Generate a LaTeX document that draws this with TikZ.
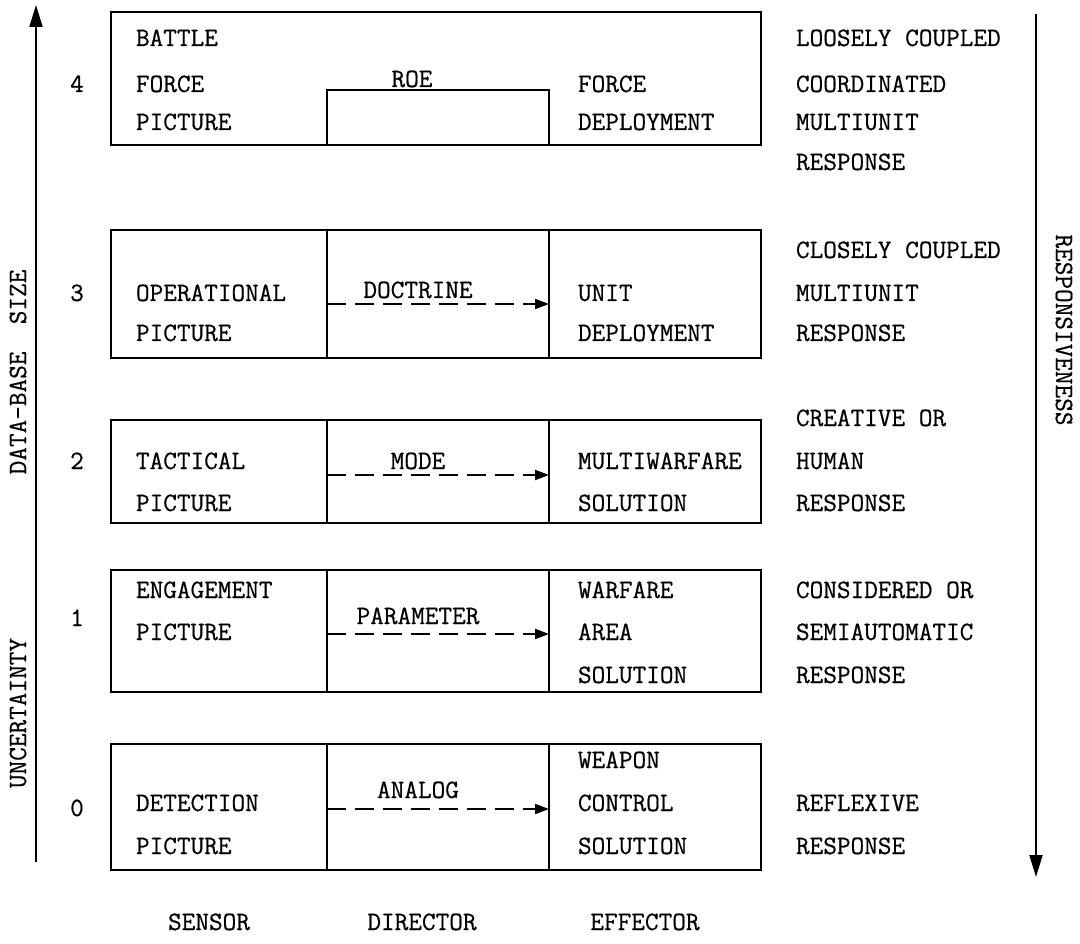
\documentclass[tikz,border=0pt]{standalone}
\usepackage{fontspec}
\newfontfamily\typew[FakeBold=0.6]{Latin Modern Mono}
\usetikzlibrary{arrows.meta}
\begin{document}
\begin{tikzpicture}[x=1pt,y=-1pt,
  line width=2pt,
  txt/.style={font=\fontsize{26.5}{26.5}\selectfont\typew, inner sep=0pt, anchor=base west},
  ctxt/.style={font=\fontsize{26.5}{26.5}\selectfont\typew, inner sep=0pt, anchor=base},
  rtxt/.style={font=\fontsize{26.5}{26.5}\selectfont\typew, inner sep=0pt},
  cell/.style={draw, rectangle, inner sep=0pt, outer sep=0pt},
  dasharrow/.style={dash pattern=on 19pt off 9pt, -{Triangle[length=14pt,width=10pt]}},
  axis/.style={-{Triangle[length=22pt,width=13pt]}}]
\useasboundingbox (0,0) rectangle (1080,944);

% axes
\coordinate (lb) at (36,862);
\coordinate (lt) at (36,5);
\coordinate (rt) at (1036,14);
\coordinate (rb) at (1036,877);
\draw[axis] (lb) -- (lt);
\draw[axis] (rt) -- (rb);
\node[rtxt, rotate=90] (dbs) at (18,372) {DATA-BASE~~SIZE};
\node[rtxt, rotate=90] (unc) at (18,713) {UNCERTAINTY};
\node[rtxt, rotate=-90] (resp) at (1064,330) {RESPONSIVENESS};

% row 4
\node[cell, minimum width=650pt, minimum height=133pt] (box4) at (436,78.5) {};
\node[cell, minimum width=222pt, minimum height=55pt] (roebox) at (438,117.5) {};
\node[ctxt] (n4) at (77,92) {4};
\node[txt] (s4a) at (135,46) {BATTLE};
\node[txt] (s4b) at (135,92) {FORCE};
\node[txt] (s4c) at (135,130) {PICTURE};
\node[ctxt] (roe) at (412,87) {ROE};
\node[txt] (e4a) at (577,92) {FORCE};
\node[txt] (e4b) at (577,130) {DEPLOYMENT};
\node[txt] (r4a) at (795,46) {LOOSELY COUPLED};
\node[txt] (r4b) at (795,92) {COORDINATED};
\node[txt] (r4c) at (795,130) {MULTIUNIT};
\node[txt] (r4d) at (795,170) {RESPONSE};

% row 3
\node[cell, minimum width=216pt, minimum height=128pt] (s3) at (219,294) {};
\node[cell, minimum width=222pt, minimum height=128pt] (d3) at (438,294) {};
\node[cell, minimum width=212pt, minimum height=128pt] (e3) at (655,294) {};
\node[ctxt] (n3) at (77,301) {3};
\node[txt] (s3a) at (135,301) {OPERATIONAL};
\node[txt] (s3b) at (135,341) {PICTURE};
\node[ctxt] (l3) at (418,298) {DOCTRINE};
\node[txt] (e3a) at (577,301) {UNIT};
\node[txt] (e3b) at (577,341) {DEPLOYMENT};
\node[txt] (r3a) at (795,258) {CLOSELY COUPLED};
\node[txt] (r3b) at (795,301) {MULTIUNIT};
\node[txt] (r3c) at (795,341) {RESPONSE};
\draw[dasharrow] ([yshift=-10pt]d3.west) -- ([yshift=-10pt]e3.west);

% row 2
\node[cell, minimum width=216pt, minimum height=103pt] (s2) at (219,471.5) {};
\node[cell, minimum width=222pt, minimum height=103pt] (d2) at (438,471.5) {};
\node[cell, minimum width=212pt, minimum height=103pt] (e2) at (655,471.5) {};
\node[ctxt] (n2) at (77,469) {2};
\node[txt] (s2a) at (135,469) {TACTICAL};
\node[txt] (s2b) at (135,511) {PICTURE};
\node[ctxt] (l2) at (418,469) {MODE};
\node[txt] (e2a) at (577,469) {MULTIWARFARE};
\node[txt] (e2b) at (577,511) {SOLUTION};
\node[txt] (r2a) at (795,426) {CREATIVE OR};
\node[txt] (r2b) at (795,469) {HUMAN};
\node[txt] (r2c) at (795,511) {RESPONSE};
\draw[dasharrow] ([yshift=-3.5pt]d2.west) -- ([yshift=-3.5pt]e2.west);

% row 1
\node[cell, minimum width=216pt, minimum height=122pt] (s1) at (219,631) {};
\node[cell, minimum width=222pt, minimum height=122pt] (d1) at (438,631) {};
\node[cell, minimum width=212pt, minimum height=122pt] (e1) at (655,631) {};
\node[ctxt] (n1) at (77,626) {1};
\node[txt] (s1a) at (135,598) {ENGAGEMENT};
\node[txt] (s1b) at (135,640) {PICTURE};
\node[ctxt] (l1) at (418,624) {PARAMETER};
\node[txt] (e1a) at (577,598) {WARFARE};
\node[txt] (e1b) at (577,640) {AREA};
\node[txt] (e1c) at (577,683) {SOLUTION};
\node[txt] (r1a) at (795,598) {CONSIDERED OR};
\node[txt] (r1b) at (795,640) {SEMIAUTOMATIC};
\node[txt] (r1c) at (795,683) {RESPONSE};
\draw[dasharrow] ([yshift=-3pt]d1.west) -- ([yshift=-3pt]e1.west);

% row 0
\node[cell, minimum width=216pt, minimum height=126pt] (s0) at (219,807) {};
\node[cell, minimum width=222pt, minimum height=126pt] (d0) at (438,807) {};
\node[cell, minimum width=212pt, minimum height=126pt] (e0) at (655,807) {};
\node[ctxt] (n0) at (77,816) {0};
\node[txt] (s0a) at (135,811) {DETECTION};
\node[txt] (s0b) at (135,854) {PICTURE};
\node[ctxt] (l0) at (418,798) {ANALOG};
\node[txt] (e0a) at (577,768) {WEAPON};
\node[txt] (e0b) at (577,811) {CONTROL};
\node[txt] (e0c) at (577,854) {SOLUTION};
\node[txt] (r0a) at (795,811) {REFLEXIVE};
\node[txt] (r0b) at (795,854) {RESPONSE};
\draw[dasharrow] ([yshift=-2pt]d0.west) -- ([yshift=-2pt]e0.west);

% column labels
\node[ctxt] (csens) at (209,930) {SENSOR};
\node[ctxt] (cdir) at (422,930) {DIRECTOR};
\node[ctxt] (ceff) at (645,930) {EFFECTOR};
\end{tikzpicture}
\end{document}
